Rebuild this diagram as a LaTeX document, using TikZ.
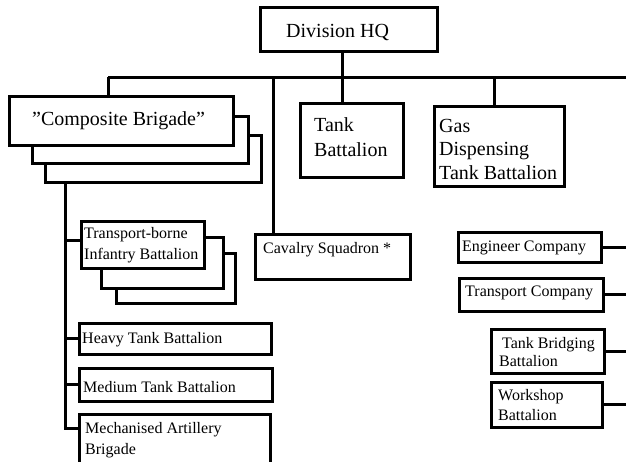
\documentclass[tikz,border=0pt]{standalone}
\usepackage{fontspec}
\setmainfont{Liberation Serif}[Ligatures=ResetAll]
\usetikzlibrary{fit}
\begin{document}
\begin{tikzpicture}[x=1pt,y=-1pt,
  box/.style={draw, line width=3pt, fill=white, inner sep=0pt},
  link/.style={draw, line width=3pt},
  big/.style={font=\fontsize{20}{24}\selectfont, inner sep=0pt, anchor=base west},
  small/.style={font=\fontsize{16}{20}\selectfont, inner sep=0pt, anchor=base west}]
\useasboundingbox (0,0) rectangle (626,461);

% top level bus
\coordinate (busL) at (108,77);
\coordinate (busR) at (640,77);
\coordinate (cavdrop) at (273,77);
\coordinate (gasdrop) at (494,77);
\coordinate (rside) at (640,0);
\draw[link] (busL) -- (busR);

% stacked "Composite Brigade" boxes
\node[box, fit={(45,135) (261,182)}] (cb2) {};
\node[box, fit={(32,116) (248,163)}] (cb1) {};
\node[box, fit={(9,96) (233,145)}] (cb) {};

% headquarters and directly attached units
\node[box, fit={(260,7) (437,51)}] (hq) {};
\node[box, fit={(300,103) (403,177)}] (tank) {};
\node[box, fit={(434,106) (564,186)}] (gas) {};
\node[box, fit={(255,234) (410,279)}] (cav) {};

% brigade sub-units
\node[box, fit={(116,253) (235,303)}] (tb2) {};
\node[box, fit={(101,237) (223,288)}] (tb1) {};
\node[box, fit={(81,221) (204,268)}] (tb) {};
\node[box, fit={(79,323) (271,354)}] (heavy) {};
\node[box, fit={(79,368) (272,401)}] (medium) {};
\node[box, fit={(79,414) (270,468)}] (mech) {};

% divisional support units
\node[box, fit={(458,232) (601,262)}] (eng) {};
\node[box, fit={(459,278) (603,311)}] (trans) {};
\node[box, fit={(491,329) (604,373)}] (bridge) {};
\node[box, fit={(491,382) (602,427)}] (work) {};

% drops from the bus
\draw[link] (busL) -- (busL |- cb.north);
\coordinate (hqdrop) at ([xshift=-6pt]hq.south);
\draw[link] (hqdrop) -- (hqdrop |- tank.north);
\draw[link] (cavdrop) -- (cavdrop |- cav.north);
\draw[link] (gasdrop) -- (gasdrop |- gas.north);

% brigade trunk
\coordinate (trunk) at ([xshift=22pt]cb2.south west);
\coordinate (tbin) at ([yshift=4pt]tb.west);
\coordinate (mechin) at ([yshift=-16pt]mech.north west);
\draw[link] (trunk) |- (mechin);
\draw[link] (trunk |- tbin) -- (tbin);
\draw[link] (trunk |- heavy.west) -- (heavy.west);
\draw[link] (trunk |- medium.west) -- (medium.west);

% support unit links to the right
\draw[link] (eng.east) -- (eng.east -| rside);
\draw[link] (trans.east) -- (trans.east -| rside);
\draw[link] (bridge.east) -- (bridge.east -| rside);
\draw[link] (work.east) -- (work.east -| rside);

% labels
\node[big] (thq) at (286,37) {Division HQ};
\node[big] (tcb) at (32,125) {"Composite Brigade"};
\node[big] (ttank1) at (314,131) {Tank};
\node[big] (ttank2) at (314,156) {Battalion};
\node[big] (tgas1) at (439,132) {Gas};
\node[big] (tgas2) at (439,155) {Dispensing};
\node[big] (tgas3) at (439,179) {Tank Battalion};
\node[small] (tcav) at (263,253) {Cavalry Squadron *};
\node[small] (ttb1) at (84,238) {Transport-borne};
\node[small] (ttb2) at (84,259) {Infantry Battalion};
\node[small] (theavy) at (82,343) {Heavy Tank Battalion};
\node[small] (tmedium) at (83,392) {Medium Tank Battalion};
\node[small] (tmech1) at (85,433) {Mechanised Artillery};
\node[small] (tmech2) at (85,454) {Brigade};
\node[small] (teng) at (462,251) {Engineer Company};
\node[small] (ttrans) at (465,296) {Transport Company};
\node[small] (tbridge1) at (502,348) {Tank Bridging};
\node[small] (tbridge2) at (499,366) {Battalion};
\node[small] (twork1) at (498,400) {Workshop};
\node[small] (twork2) at (498,420) {Battalion};
\end{tikzpicture}
\end{document}
